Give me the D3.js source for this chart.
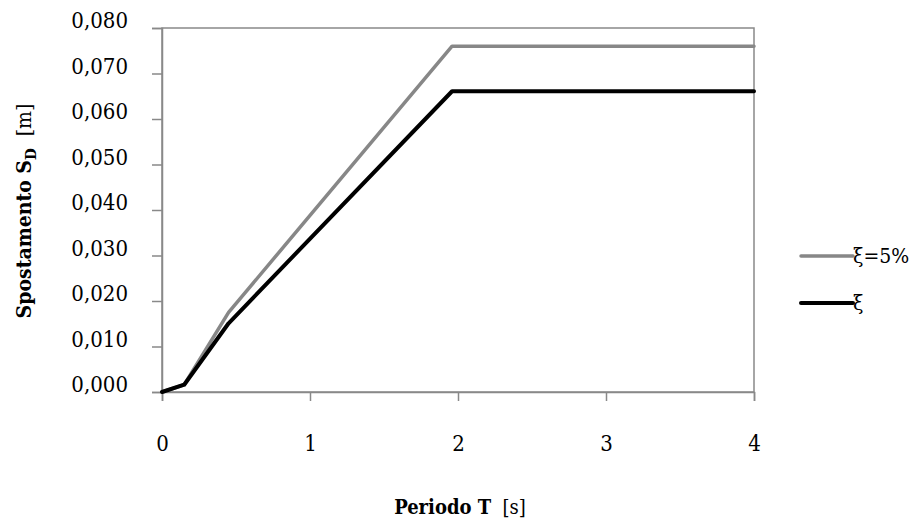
<!DOCTYPE html>
<html>
<head>
<meta charset="utf-8">
<script src="https://cdn.jsdelivr.net/npm/d3@7"></script>
<style>
  body { margin: 0; background: #fff; }
  svg text { font-family: "DejaVu Serif Condensed", "DejaVu Serif", serif; font-stretch: condensed; fill: #000; }
</style>
</head>
<body>
<div id="wrapper"></div>
<script>
// data
const periods = [0, 0.15, 0.45, 1.96, 4]
const sd5 = [0, 0.0016, 0.0175, 0.0760, 0.0760]
const sdXi = [0, 0.0016, 0.0151, 0.0661, 0.0661]
const xTicks = [0, 1, 2, 3, 4]
const yTicks = [0, 0.01, 0.02, 0.03, 0.04, 0.05, 0.06, 0.07, 0.08]
const seriesNames = ["ξ=5%", "ξ"]
const seriesColors = ["#878787", "#000000"]

function drawChart() {
  const dimensions = {
    width: 923,
    height: 525,
    margin: { top: 28, right: 169, bottom: 133, left: 162 },
  }
  dimensions.boundedWidth = dimensions.width - dimensions.margin.left - dimensions.margin.right
  dimensions.boundedHeight = dimensions.height - dimensions.margin.top - dimensions.margin.bottom

  const wrapper = d3.select("#wrapper")
    .append("svg")
      .attr("width", dimensions.width)
      .attr("height", dimensions.height)

  const bounds = wrapper.append("g")
      .attr("transform", `translate(${dimensions.margin.left},${dimensions.margin.top})`)

  const xScale = d3.scaleLinear()
    .domain([0, 4])
    .range([0, dimensions.boundedWidth])

  const yScale = d3.scaleLinear()
    .domain([0, 0.08])
    .range([dimensions.boundedHeight, 0])

  const axisColor = "#898989"

  // frame
  bounds.append("rect")
      .attr("width", dimensions.boundedWidth)
      .attr("height", dimensions.boundedHeight)
      .attr("fill", "none")
      .attr("stroke", axisColor)
      .attr("stroke-width", 1.5)

  // y axis
  const yAxis = bounds.append("g")
    .call(d3.axisLeft(yScale)
      .tickValues(yTicks)
      .tickSize(10)
      .tickPadding(24)
      .tickFormat(d => d3.format(".3f")(d).replace(".", ",")))
  yAxis.attr("font-family", null)
  yAxis.select(".domain").attr("stroke", axisColor).attr("stroke-width", 1.5)
  yAxis.selectAll(".tick line").attr("stroke", axisColor).attr("stroke-width", 1.5)
  yAxis.selectAll(".tick text")
      .attr("font-size", 22)
      .attr("dy", "0.36em")
      .attr("y", -8)

  // x axis
  const xAxis = bounds.append("g")
      .attr("transform", `translate(0,${dimensions.boundedHeight})`)
    .call(d3.axisBottom(xScale)
      .tickValues(xTicks)
      .tickSize(9)
      .tickPadding(34)
      .tickFormat(d3.format("d")))
  xAxis.attr("font-family", null)
  xAxis.select(".domain").attr("stroke", axisColor).attr("stroke-width", 1.5)
  xAxis.selectAll(".tick line").attr("stroke", axisColor).attr("stroke-width", 1.5)
  xAxis.selectAll(".tick text").attr("font-size", 22)

  // lines
  const series = [sd5, sdXi]
  const lineGenerator = d3.line()
    .x((d, i) => xScale(periods[i]))
    .y(d => yScale(d))

  bounds.selectAll(".series")
    .data(series)
    .join("path")
      .attr("class", "series")
      .attr("d", lineGenerator)
      .attr("fill", "none")
      .attr("stroke", (d, i) => seriesColors[i])
      .attr("stroke-width", (d, i) => i == 0 ? 3.5 : 4)
      .attr("stroke-linejoin", "round")
      .attr("stroke-linecap", "round")

  // axis titles
  const xTitle = wrapper.append("text")
      .attr("x", 460)
      .attr("y", 514)
      .attr("text-anchor", "middle")
      .attr("font-size", 20)
  xTitle.append("tspan").attr("font-weight", "bold").text("Periodo T")
  xTitle.append("tspan").attr("xml:space", "preserve").text("  [s]")

  const yTitle = wrapper.append("text")
      .attr("transform", "translate(31,211) rotate(-90)")
      .attr("text-anchor", "middle")
      .attr("font-size", 21)
  yTitle.append("tspan").attr("font-weight", "bold").text("Spostamento S")
  yTitle.append("tspan").attr("font-weight", "bold").attr("font-size", 15).attr("dy", 5).text("D")
  yTitle.append("tspan").attr("dy", -5).attr("xml:space", "preserve").text("  [m]")

  // legend
  const legend = wrapper.append("g")
      .attr("transform", "translate(801,256)")
  const legendItems = legend.selectAll("g")
    .data(seriesNames)
    .join("g")
      .attr("transform", (d, i) => `translate(0,${i * 47})`)
  legendItems.append("line")
      .attr("x1", 0)
      .attr("x2", 52)
      .attr("stroke", (d, i) => seriesColors[i])
      .attr("stroke-width", (d, i) => i == 0 ? 3.5 : 4)
      .attr("stroke-linecap", "round")
  legendItems.append("text")
      .attr("x", 52)
      .attr("dy", "0.35em")
      .attr("font-size", 21)
      .text(d => d)
}
drawChart()
</script>
</body>
</html>
